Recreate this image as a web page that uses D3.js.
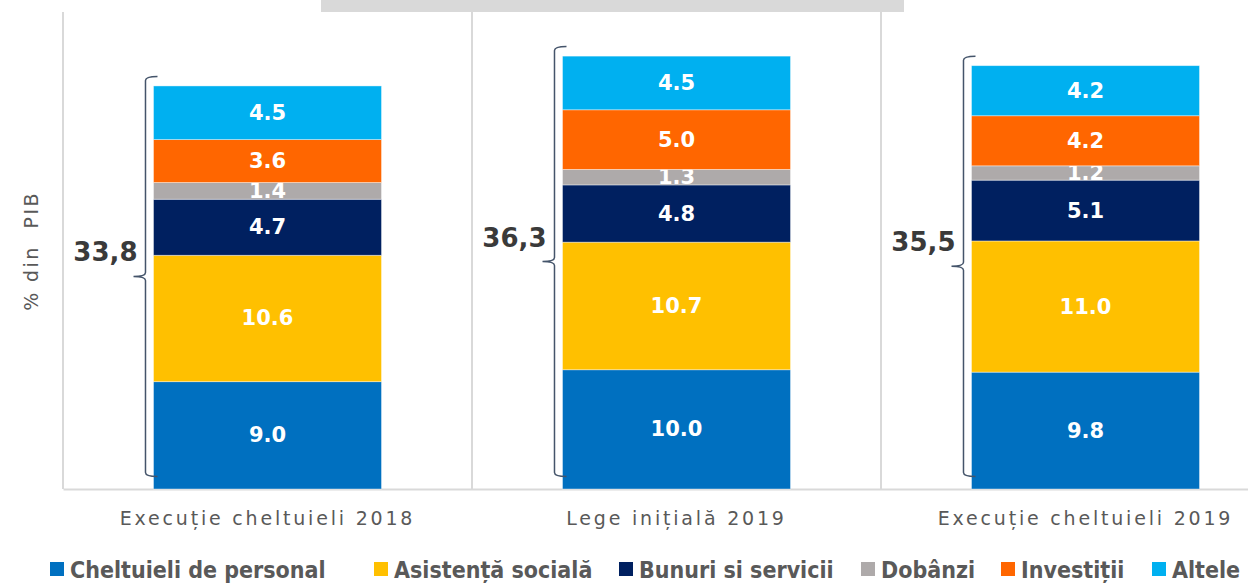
<!DOCTYPE html>
<html>
<head>
<meta charset="utf-8">
<script src="https://cdn.jsdelivr.net/npm/d3@7"></script>
<style>
  html, body { margin: 0; padding: 0; background: #ffffff; }
  svg { display: block; }
</style>
</head>
<body>
<svg id="chart" width="1248" height="583"></svg>
<script>
// ---- Data ----
const categories = ["Execuție cheltuieli 2018", "Lege inițială 2019", "Execuție cheltuieli 2019"];
const seriesNames = ["Cheltuieli de personal", "Asistență socială", "Bunuri si servicii", "Dobânzi", "Investiții", "Altele"];
const cheltuieliPersonal = [9.0, 10.0, 9.8];
const asistentaSociala = [10.6, 10.7, 11.0];
const bunuriServicii = [4.7, 4.8, 5.1];
const dobanzi = [1.4, 1.3, 1.2];
const investitii = [3.6, 5.0, 4.2];
const altele = [4.5, 4.5, 4.2];
const totals = [33.8, 36.3, 35.5];
const seriesColors = ["#0070C0", "#FFC000", "#002060", "#AEAAAA", "#FF6600", "#00B0F0"];

// ---- Build table ----
const seriesValues = [cheltuieliPersonal, asistentaSociala, bunuriServicii, dobanzi, investitii, altele];
const table = categories.map((c, i) => {
  const row = { category: c };
  seriesNames.forEach((s, k) => { row[s] = seriesValues[k][i]; });
  return row;
});
const stacked = d3.stack().keys(seriesNames)(table);

// ---- Layout ----
const svg = d3.select("#chart");
const plotLeft = 63, plotTop = 12, plotBottom = 489;
const x = d3.scaleBand().domain(categories).range([plotLeft, plotLeft + 409 * 3]).padding(0);
const y = d3.scaleLinear().domain([0, 40]).range([plotBottom, plotTop]);
const barW = x.bandwidth() * 0.5575;
const barX = c => x(c) + (x.bandwidth() - barW) / 2;
const color = d3.scaleOrdinal().domain(seriesNames).range(seriesColors);
const gridColor = "#d9d9d9";
const textGray = "#595959";

// top title box remnant
svg.append("rect").attr("x", 321).attr("y", 0).attr("width", 583).attr("height", 12).attr("fill", "#d9d9d9");

// category separators + y axis line
const sepG = svg.append("g");
categories.forEach(c => {
  sepG.append("line")
    .attr("x1", x(c)).attr("x2", x(c))
    .attr("y1", plotTop).attr("y2", plotBottom)
    .attr("stroke", gridColor).attr("stroke-width", 2);
});

// x axis
const xAxis = svg.append("g")
  .attr("transform", `translate(0,${plotBottom})`)
  .call(d3.axisBottom(x).tickSize(0).tickPadding(0));
xAxis.select(".domain").attr("stroke", gridColor).attr("stroke-width", 2);
xAxis.selectAll(".tick text")
  .attr("y", 36)
  .attr("dy", 0)
  .attr("fill", textGray)
  .attr("font-family", "DejaVu Sans, Verdana, sans-serif")
  .attr("font-size", 19)
  .attr("letter-spacing", "2.8px");

// y axis title
svg.append("text")
  .attr("transform", `translate(38,251) rotate(-90)`)
  .attr("text-anchor", "middle")
  .attr("fill", textGray)
  .attr("font-family", "DejaVu Sans, Verdana, sans-serif")
  .attr("font-size", 19)
  .attr("letter-spacing", "2.4px")
  .style("white-space", "pre")
  .text("% din  PIB");

// bars
const layers = svg.append("g").selectAll("g")
  .data(stacked).join("g")
  .attr("fill", d => color(d.key));
layers.selectAll("rect")
  .data(d => d.map(v => ({ v, key: d.key })))
  .join("rect")
  .attr("x", d => barX(d.v.data.category))
  .attr("width", barW)
  .attr("y", d => y(d.v[1]))
  .attr("height", d => y(d.v[0]) - y(d.v[1]))
  .attr("stroke", "#ffffff")
  .attr("stroke-opacity", 0.5)
  .attr("stroke-width", 0.8);

// value labels
layers.selectAll("text")
  .data(d => d.map(v => ({ v, key: d.key })))
  .join("text")
  .attr("x", d => barX(d.v.data.category) + barW / 2)
  .attr("y", d => (y(d.v[0]) + y(d.v[1])) / 2)
  .attr("text-anchor", "middle")
  .attr("dominant-baseline", "central")
  .attr("fill", "#ffffff")
  .attr("font-family", "DejaVu Sans, Verdana, sans-serif")
  .attr("font-weight", "bold")
  .attr("font-size", 21)
  .text(d => d3.format(".1f")(d.v[1] - d.v[0]));

// braces and totals
const braceG = svg.append("g");
categories.forEach((c, i) => {
  const bx = barX(c) - 8;
  const top = y(totals[i]) - 9.5;
  const bot = y(0) - 12.5;
  const mid = (top + bot) / 2;
  const r = 4;
  const p = d3.path();
  p.moveTo(bx + 12, top);
  p.quadraticCurveTo(bx, top, bx, top + r);
  p.lineTo(bx, mid - r);
  p.quadraticCurveTo(bx, mid, bx - 12, mid);
  p.quadraticCurveTo(bx, mid, bx, mid + r);
  p.lineTo(bx, bot - r);
  p.quadraticCurveTo(bx, bot, bx + 12, bot);
  braceG.append("path")
    .attr("d", p.toString())
    .attr("fill", "none")
    .attr("stroke", "#44546A")
    .attr("stroke-width", 1.5);
  braceG.append("text")
    .attr("x", bx - 8)
    .attr("y", mid - 15)
    .attr("text-anchor", "end")
    .attr("fill", "#3a3a3a")
    .attr("font-family", "DejaVu Sans, Verdana, sans-serif")
    .attr("font-weight", "bold")
    .attr("font-size", 26)
    .text(d3.format(".1f")(totals[i]).replace(".", ","));
});

// legend
const legendX = [50, 374, 619, 861, 1001, 1152];
const legend = svg.append("g").selectAll("g")
  .data(seriesNames).join("g")
  .attr("transform", (d, i) => `translate(${legendX[i]},562)`);
legend.append("rect")
  .attr("width", 14).attr("height", 14)
  .attr("fill", d => color(d));
legend.append("text")
  .attr("x", 20).attr("y", 15.5)
  .attr("fill", textGray)
  .attr("font-family", "DejaVu Sans Condensed, DejaVu Sans, sans-serif")
  .attr("font-weight", "bold")
  .attr("font-size", 23)
  .text(d => d);
</script>
</body>
</html>
